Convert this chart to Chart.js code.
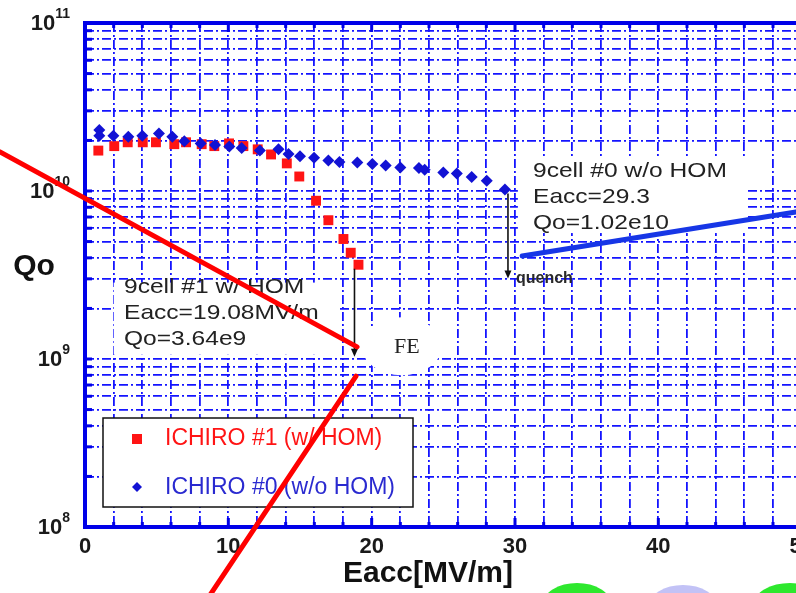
<!DOCTYPE html>
<html><head><meta charset="utf-8">
<script src="https://cdn.jsdelivr.net/npm/chart.js@4.4.1/dist/chart.umd.min.js"></script>
<style>
html,body{margin:0;padding:0;background:#fff;overflow:hidden;width:796px;height:593px}
#wrap{position:absolute;left:0;top:0;width:960px;height:593px}
</style>
</head><body>
<div id="wrap"><canvas id="c" width="960" height="593"></canvas></div>
<script>
// ---------- data ----------
const seriesLabels = ['ICHIRO #1 (w/ HOM)', 'ICHIRO #0 (w/o HOM)'];
const eaccIchiro1 = [0.93, 2.04, 2.98, 4.03, 4.95, 6.23, 7.05, 8.14, 9.02, 10.05, 11.05, 12.05, 12.98, 14.08, 14.95, 16.12, 16.98, 18.03, 18.54, 19.08];
const qoIchiro1   = [1.74e10, 1.85e10, 1.95e10, 1.95e10, 1.95e10, 1.90e10, 1.95e10, 1.90e10, 1.85e10, 1.92e10, 1.85e10, 1.77e10, 1.65e10, 1.46e10, 1.22e10, 8.75e9, 6.7e9, 5.18e9, 4.29e9, 3.64e9];
const eaccIchiro0 = [1.0, 1.0, 1.98, 3.02, 4.0, 5.16, 6.09, 6.93, 8.07, 9.07, 10.07, 10.93, 12.2, 13.5, 14.2, 15.0, 15.98, 16.98, 17.75, 19.0, 20.05, 20.98, 22.0, 23.3, 23.7, 25.0, 25.94, 26.98, 28.03, 29.3];
const qoIchiro0   = [2.31e10, 2.13e10, 2.13e10, 2.10e10, 2.13e10, 2.20e10, 2.10e10, 1.98e10, 1.92e10, 1.88e10, 1.84e10, 1.80e10, 1.74e10, 1.77e10, 1.66e10, 1.61e10, 1.58e10, 1.52e10, 1.49e10, 1.48e10, 1.45e10, 1.42e10, 1.38e10, 1.37e10, 1.34e10, 1.29e10, 1.27e10, 1.21e10, 1.15e10, 1.02e10];

const xTickValues = [0,2,4,6,8,10,12,14,16,18,20,22,24,26,28,30,32,34,36,38,40,42,44,46,48,50,52,54,56,58,60];
const xTickLabels = [0,10,20,30,40,50,60];
const yDecades = [1e8, 1e9, 1e10, 1e11];
const yDecadeExponents = ['8', '9', '10', '11'];
const yMinorMultipliers = [2,3,4,5,6,7,8,9];
const yTickValues = yDecades.concat(
  yDecades.slice(0, 3).flatMap(d => yMinorMultipliers.map(m => m * d)));

const xTitle = 'Eacc[MV/m]';
const yTitle = 'Qo';
const note1 = ['9cell #1 w/ HOM', 'Eacc=19.08MV/m', 'Qo=3.64e9'];
const note0 = ['9cell #0 w/o HOM', 'Eacc=29.3', 'Qo=1.02e10'];

// ---------- styles ----------
const GRID = '#1414ff';
const AXIS = '#0000e8';
const RED = '#ff1414';
const BLUE = '#1212d4';

function drawArrow(ctx, x, y1, y2) {
  ctx.save();
  ctx.strokeStyle = '#111'; ctx.fillStyle = '#111'; ctx.lineWidth = 1.6;
  ctx.beginPath(); ctx.moveTo(x, y1); ctx.lineTo(x, y2 - 5); ctx.stroke();
  ctx.beginPath(); ctx.moveTo(x - 3.5, y2 - 8); ctx.lineTo(x + 3.5, y2 - 8); ctx.lineTo(x, y2); ctx.closePath(); ctx.fill();
  ctx.restore();
}

function stretchedText(ctx, txt, x, y, sx) {
  ctx.save(); ctx.translate(x, y); ctx.scale(sx, 1); ctx.fillText(txt, 0, 0); ctx.restore();
}

const overlayPlugin = {
  id: 'overlay',
  beforeDatasetsDraw(chart) {
    const ctx = chart.ctx, xs = chart.scales.x, ys = chart.scales.y;
    const X = v => xs.getPixelForValue(v), Y = v => ys.getPixelForValue(v);
    ctx.save();
    ctx.fillStyle = '#fff';
    // annotation boxes (white, hiding the grid)
    ctx.fillRect(X(2.0), Y(2.85e9), X(17.7) - X(2.0), Y(1.06e9) - Y(2.85e9));
    ctx.fillRect(X(30.2), Y(1.57e10), X(46.2) - X(30.2), Y(5.62e9) - Y(1.57e10));
    // FE cloud
    ctx.beginPath(); ctx.ellipse(X(22.1), Y(1.19e9), 40, 29, 0, 0, Math.PI * 2); ctx.fill();
    // legend box
    ctx.fillRect(103, 418, 310, 89);
    ctx.strokeStyle = '#111'; ctx.lineWidth = 1.5;
    ctx.strokeRect(103, 418, 310, 89);
    ctx.restore();
  },
  afterDraw(chart) {
    const ctx = chart.ctx, xs = chart.scales.x, ys = chart.scales.y, ca = chart.chartArea;
    const X = v => xs.getPixelForValue(v), Y = v => ys.getPixelForValue(v);
    ctx.save();
    // inner ticks
    ctx.strokeStyle = AXIS; ctx.lineWidth = 3;
    yTickValues.forEach(v => {
      const py = Y(v);
      ctx.beginPath(); ctx.moveTo(ca.left, py); ctx.lineTo(ca.left + 7, py); ctx.stroke();
    });
    xTickValues.forEach(v => {
      const px = X(v), len = (v % 10 === 0) ? 9 : 5;
      ctx.beginPath(); ctx.moveTo(px, ca.bottom); ctx.lineTo(px, ca.bottom - len); ctx.stroke();
      ctx.beginPath(); ctx.moveTo(px, ca.top); ctx.lineTo(px, ca.top + len); ctx.stroke();
    });
    // axis frame
    ctx.lineWidth = 4; ctx.strokeStyle = AXIS;
    ctx.beginPath();
    ctx.moveTo(ca.right, ca.top); ctx.lineTo(ca.left, ca.top); ctx.lineTo(ca.left, ca.bottom); ctx.lineTo(ca.right, ca.bottom);
    ctx.stroke();

    // tick labels
    ctx.fillStyle = '#1a1a1a';
    ctx.font = 'bold 22px "Liberation Sans", Arial, sans-serif';
    ctx.textAlign = 'center'; ctx.textBaseline = 'middle';
    xTickLabels.forEach(v => ctx.fillText(String(v), X(v), 547));
    yDecades.forEach((v, i) => {
      const py = Y(v);
      ctx.font = 'bold 14px "Liberation Sans", Arial, sans-serif';
      const sup = yDecadeExponents[i];
      const sw = ctx.measureText(sup).width;
      ctx.textAlign = 'right'; ctx.textBaseline = 'alphabetic';
      ctx.fillText(sup, 70, py - 5);
      ctx.font = 'bold 22px "Liberation Sans", Arial, sans-serif';
      ctx.fillText('10', 70 - sw, py + 7);
    });

    // axis titles
    ctx.font = 'bold 30px "Liberation Sans", Arial, sans-serif';
    ctx.textAlign = 'center'; ctx.textBaseline = 'middle';
    ctx.fillStyle = '#111';
    ctx.fillText(yTitle, 34, 267);
    ctx.fillText(xTitle, 428, 574);

    // annotations
    ctx.fillStyle = '#222';
    ctx.font = '21px "Liberation Sans", Arial, sans-serif';
    ctx.textAlign = 'left'; ctx.textBaseline = 'alphabetic';
    note1.forEach((t, i) => stretchedText(ctx, t, 124, 293 + i * 26, 1.17));
    note0.forEach((t, i) => stretchedText(ctx, t, 533, 177 + i * 26, 1.17));

    const last1 = eaccIchiro1.length - 1, last0 = eaccIchiro0.length - 1;
    const a1x = X(eaccIchiro1[last1]) - 4, a1y = Y(qoIchiro1[last1]) + 4;
    drawArrow(ctx, a1x, a1y, a1y + 88);
    const a0x = X(eaccIchiro0[last0]) + 3, a0y = Y(qoIchiro0[last0]) + 4;
    drawArrow(ctx, a0x, a0y, a0y + 85);

    ctx.fillStyle = '#2a2a2a';
    ctx.font = 'bold 16px "Liberation Sans", Arial, sans-serif';
    ctx.fillText('quench', a0x + 8, a0y + 89);

    ctx.font = '22px "Liberation Serif", "Times New Roman", serif';
    ctx.textAlign = 'center'; ctx.textBaseline = 'middle';
    ctx.fillStyle = '#222';
    ctx.fillText('FE', X(22.1) + 5, Y(1.19e9) + 1);

    // legend content
    const ds = chart.data.datasets;
    ctx.textAlign = 'left'; ctx.textBaseline = 'middle';
    ctx.font = '23px "Liberation Sans", Arial, sans-serif';
    ctx.fillStyle = RED;
    ctx.fillRect(132, 434, 10, 10);
    ctx.fillText(ds[0].label, 165, 439);
    ctx.fillStyle = BLUE;
    ctx.beginPath(); ctx.moveTo(137, 482); ctx.lineTo(142, 487); ctx.lineTo(137, 492); ctx.lineTo(132, 487); ctx.closePath(); ctx.fill();
    ctx.fillStyle = '#2a2ad0';
    ctx.fillText(ds[1].label, 165, 488);

    // overlaid strokes
    ctx.lineCap = 'round';
    ctx.strokeStyle = '#ff0000'; ctx.lineWidth = 5;
    ctx.beginPath(); ctx.moveTo(X(-5.93), Y(1.71e10)); ctx.lineTo(X(18.98), Y(1.18e9)); ctx.stroke();
    ctx.beginPath(); ctx.moveTo(X(18.91), Y(7.92e8)); ctx.lineTo(X(8.02), Y(3.2e7)); ctx.stroke();
    ctx.strokeStyle = '#1736e6';
    ctx.beginPath(); ctx.moveTo(X(30.5), Y(4.1e9)); ctx.lineTo(X(56), Y(9.17e9)); ctx.stroke();

    // decorative blobs at the bottom
    ctx.fillStyle = '#2ee82e';
    ctx.beginPath(); ctx.ellipse(577, 604, 34, 21, 0, 0, Math.PI * 2); ctx.fill();
    ctx.fillStyle = '#c2c2f6';
    ctx.beginPath(); ctx.ellipse(683, 606, 34, 21, 0, 0, Math.PI * 2); ctx.fill();
    ctx.fillStyle = '#2ee82e';
    ctx.beginPath(); ctx.ellipse(790, 604, 36, 21, 0, 0, Math.PI * 2); ctx.fill();
    ctx.restore();
  }
};

new Chart(document.getElementById('c'), {
  type: 'scatter',
  data: {
    datasets: [
      { label: seriesLabels[0], data: eaccIchiro1.map((x, i) => ({ x, y: qoIchiro1[i] })),
        pointStyle: 'rect', pointRadius: 7, backgroundColor: RED, borderColor: RED, borderWidth: 0, order: 1 },
      { label: seriesLabels[1], data: eaccIchiro0.map((x, i) => ({ x, y: qoIchiro0[i] })),
        pointStyle: 'rectRot', pointRadius: 6, backgroundColor: BLUE, borderColor: BLUE, borderWidth: 0, order: 0 }
    ]
  },
  options: {
    responsive: false, animation: false, devicePixelRatio: 1, events: [],
    layout: { padding: { top: 23, right: 15, left: 0, bottom: 0 } },
    plugins: { legend: { display: false }, tooltip: { enabled: false } },
    scales: {
      x: {
        type: 'linear', min: 0, max: 60,
        afterBuildTicks: s => { s.ticks = xTickValues.map(v => ({ value: v })); },
        afterFit: s => { s.height = 66; },
        ticks: { display: false },
        grid: { color: GRID, lineWidth: 1.8, drawTicks: false },
        border: { display: false, dash: [9, 3, 2, 3] }
      },
      y: {
        type: 'logarithmic', min: 1e8, max: 1e11,
        afterBuildTicks: s => { s.ticks = yTickValues.slice().sort((a, b) => a - b).map(v => ({ value: v })); },
        afterFit: s => { s.width = 85; },
        ticks: { display: false },
        grid: { color: GRID, lineWidth: 1.8, drawTicks: false },
        border: { display: false, dash: [9, 3, 2, 3] }
      }
    }
  },
  plugins: [overlayPlugin]
});
</script>
</body></html>
